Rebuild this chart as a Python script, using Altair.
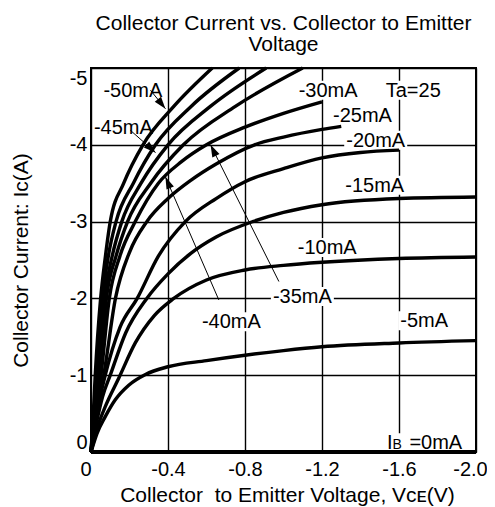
import altair as alt
import pandas as pd

FONT = "Liberation Sans"
W, H = 385, 384          # plot area in px
X_MAX, Y_MAX = 2.0, 5.0  # magnitudes of axis extents

# ---------------- data ----------------
vce_0 = [0.0, -2.0]
ic_0 = [0.0, 0.0]

vce_5 = [0, -0.031, -0.074, -0.126, -0.196, -0.283, -0.4, -0.6, -0.8, -1.0, -1.2, -1.6, -2.0]
ic_5 = [0, -0.24, -0.46, -0.68, -0.87, -1.01, -1.11, -1.19, -1.26, -1.32, -1.37, -1.42, -1.45]

vce_10 = [0, -0.04, -0.074, -0.144, -0.23, -0.33, -0.43, -0.6, -0.8, -1.0, -1.2, -1.6, -2.0]
ic_10 = [0, -0.37, -0.59, -0.96, -1.42, -1.78, -2.0, -2.24, -2.37, -2.43, -2.47, -2.52, -2.54]

vce_15 = [0, -0.03, -0.06, -0.10, -0.18, -0.29, -0.4, -0.52, -0.65, -0.84, -1.0, -1.2, -1.6, -2.0]
ic_15 = [0, -0.40, -0.72, -1.0, -1.55, -2.0, -2.32, -2.59, -2.80, -3.0, -3.12, -3.22, -3.30, -3.32]

vce_20 = [0, -0.03, -0.074, -0.15, -0.24, -0.35, -0.49, -0.65, -0.8, -1.0, -1.2, -1.4, -1.6]
ic_20 = [0, -0.5, -1.0, -1.62, -2.0, -2.55, -3.0, -3.3, -3.52, -3.69, -3.83, -3.9, -3.93]

vce_25 = [0, -0.03, -0.066, -0.127, -0.2, -0.29, -0.4, -0.52, -0.65, -0.85, -1.0, -1.2, -1.3]
ic_25 = [0, -0.55, -1.0, -2.0, -2.6, -3.0, -3.3, -3.54, -3.75, -4.0, -4.1, -4.2, -4.24]

vce_30 = [0, -0.025, -0.052, -0.095, -0.15, -0.23, -0.35, -0.47, -0.6, -0.8, -1.0, -1.2]
ic_30 = [0, -0.5, -1.0, -2.0, -2.55, -3.0, -3.5, -3.78, -4.0, -4.23, -4.41, -4.56]

vce_35 = [0, -0.022, -0.045, -0.08, -0.13, -0.19, -0.31, -0.48, -0.75, -1.10]
ic_35 = [0, -0.5, -1.0, -2.0, -2.55, -3.0, -3.5, -4.0, -4.5, -5.0]

vce_40 = [0, -0.018, -0.037, -0.07, -0.11, -0.16, -0.26, -0.40, -0.62, -0.91]
ic_40 = [0, -0.5, -1.0, -2.0, -2.55, -3.0, -3.5, -4.0, -4.5, -5.0]

vce_45 = [0, -0.015, -0.03, -0.06, -0.09, -0.13, -0.22, -0.335, -0.52, -0.77]
ic_45 = [0, -0.5, -1.0, -2.0, -2.55, -3.0, -3.5, -4.0, -4.5, -5.0]

vce_50 = [0, -0.012, -0.022, -0.05, -0.075, -0.10, -0.17, -0.27, -0.43, -0.63]
ic_50 = [0, -0.5, -1.0, -2.0, -2.55, -3.0, -3.5, -4.0, -4.5, -5.0]

curves = [
    ("0mA", vce_0, ic_0), ("-5mA", vce_5, ic_5), ("-10mA", vce_10, ic_10),
    ("-15mA", vce_15, ic_15), ("-20mA", vce_20, ic_20), ("-25mA", vce_25, ic_25),
    ("-30mA", vce_30, ic_30), ("-35mA", vce_35, ic_35), ("-40mA", vce_40, ic_40),
    ("-45mA", vce_45, ic_45), ("-50mA", vce_50, ic_50),
]

x_ticks = [0, -0.4, -0.8, -1.2, -1.6, -2.0]
y_ticks = [0, -1, -2, -3, -4, -5]

# annotation labels: text, centre x, baseline y (data units)
lab_text = ["-50mA", "-45mA", "-30mA", "Ta=25", "-25mA", "-20mA", "-15mA", "-10mA", "-35mA", "-40mA", "-5mA"]
lab_x = [-0.2175, -0.168, -1.232, -1.674, -1.41, -1.479, -1.474, -1.227, -1.098, -0.729, -1.731]
lab_y = [-4.622, -4.141, -4.626, -4.626, -4.30, -3.975, -3.389, -2.578, -1.94, -1.611, -1.624]
lab_w = [59, 59, 59, 57, 59, 59, 59, 59, 59, 59, 48]
lab_bg = [False, False, True, True, True, True, True, True, True, True, True]

# IB = 0mA label parts
ib_text = ["I", "B", "=0mA"]
ib_x = [-1.538, -1.566, -1.654]
ib_y = [-0.035, -0.035, -0.035]
ib_fs = [20, 14, 20]

# leader lines (label -> arrow tip) and arrow heads
lead_x1 = [-0.309, -0.204, -0.664, -0.976]
lead_y1 = [-4.71, -4.19, -1.98, -2.22]
lead_x2 = [-0.387, -0.335, -0.387, -0.621]
lead_y2 = [-4.47, -3.90, -3.58, -4.00]
head_x = [-0.367, -0.312, -0.399, -0.635]
head_y = [-4.531, -3.95, -3.51, -3.93]
head_ang = [142, 132, 337, 334]

# ---------------- helpers ----------------
def px_x(v):
    return -v / X_MAX * W

def v_x(p):
    return -p / W * X_MAX

def px_y(v):
    return H * (1 + v / Y_MAX)

def v_y(p):
    return (p / H - 1) * Y_MAX

rows = []
for name, xs, ys in curves:
    for i, (a, b) in enumerate(zip(xs, ys)):
        rows.append({"ib": name, "vce": a, "ic": b, "idx": i, "w": 4.0 if name == "0mA" else 3.4})
df = pd.DataFrame(rows)

bg_rows = []
for t, cx, by, w, bg in zip(lab_text, lab_x, lab_y, lab_w, lab_bg):
    if not bg:
        continue
    cpx = px_x(cx)
    bpy = px_y(by)
    bg_rows.append({"vce": v_x(cpx - w / 2 - 2), "vce2": v_x(cpx + w / 2 + 2),
                    "ic": v_y(bpy - 16), "ic2": v_y(bpy + 3)})
# IB label background
ib_l = px_x(ib_x[0]) - 2
ib_b = px_y(ib_y[0])
bg_rows.append({"vce": v_x(ib_l), "vce2": v_x(ib_l + 78), "ic": v_y(ib_b - 16), "ic2": v_y(ib_b + 2)})
df_bg = pd.DataFrame(bg_rows)

df_lab = pd.DataFrame({"t": lab_text, "vce": lab_x, "ic": lab_y})
df_ib = pd.DataFrame({"t": ib_text, "vce": ib_x, "ic": ib_y, "fs": ib_fs})
df_lead = pd.DataFrame({"vce": lead_x1, "ic": lead_y1, "vce2": lead_x2, "ic2": lead_y2})
df_head = pd.DataFrame({"vce": head_x, "ic": head_y, "ang": head_ang})

# ---------------- scales / axes ----------------
x_scale = alt.Scale(domain=[0, -2.0], nice=False, zero=False)
y_scale = alt.Scale(domain=[0, -5.0], nice=False, zero=False)

x_axis = alt.Axis(
    values=x_ticks,
    labelExpr="datum.value == 0 ? '0' : '-' + format(-datum.value, '.1f')",
    title="Collector\u00a0 to Emitter Voltage, V\u1d04\u1d07(V)",
    grid=True, ticks=False, domain=False, labelFlush=False,
    labelAlign={"condition": {"test": "datum.value == 0", "value": "right"}, "value": "center"},
    labelOffset={"condition": {"test": "datum.value <= -1.99", "value": -6}, "value": 0},
    labelPadding=7, titleY=49, titleX=196, titleBaseline="alphabetic",
)
y_axis = alt.Axis(
    values=y_ticks,
    labelExpr="datum.value == 0 ? '0' : '-' + format(-datum.value, 'd')",
    title="Collector Current: Ic(A)",
    grid=True, ticks=False, domain=False, labelFlush=True, labelPadding=4,
    titleAngle=270, titleX=-64, titleY=192, titleBaseline="alphabetic", titleAlign="center",
)

X = alt.X("vce:Q", scale=x_scale, axis=x_axis)
Y = alt.Y("ic:Q", scale=y_scale, axis=y_axis)

bg = alt.Chart(df_bg).mark_rect(color="white").encode(
    x=X, x2="vce2:Q", y=Y, y2="ic2:Q")

lines = alt.Chart(df).mark_line(color="black", interpolate="monotone", strokeCap="butt").encode(
    x=X, y=Y, detail="ib:N", order="idx:Q",
    strokeWidth=alt.StrokeWidth("w:Q", scale=None))

leads = alt.Chart(df_lead).mark_rule(color="black", strokeWidth=1).encode(
    x=X, y=Y, x2="vce2:Q", y2="ic2:Q")

heads = alt.Chart(df_head).mark_point(
    shape="M0,-1L-0.65,1L0.65,1Z", filled=True, color="black", opacity=1, size=150, strokeWidth=0
).encode(x=X, y=Y, angle=alt.Angle("ang:Q", scale=None))

texts = alt.Chart(df_lab).mark_text(
    font=FONT, fontSize=20, align="center", baseline="alphabetic", color="black"
).encode(x=X, y=Y, text="t:N")

ib_texts = alt.Chart(df_ib).mark_text(
    font=FONT, align="left", baseline="alphabetic", color="black"
).encode(x=X, y=Y, text="t:N", size=alt.Size("fs:Q", scale=None))

chart = alt.layer(bg, lines, leads, heads, texts, ib_texts).properties(
    width=W, height=H,
    autosize=alt.AutoSizeParams(type="none"),
    padding={"left": 83, "top": 60, "right": 11, "bottom": 56},
    title=alt.TitleParams(
        text=["Collector Current vs. Collector to Emitter", "Voltage"],
        font=FONT, fontSize=21, fontWeight="normal", color="black",
        anchor="middle", baseline="alphabetic", offset=18, dy=29, lineHeight=21,
    ),
    background="white",
).configure_view(
    stroke="black", strokeWidth=2
).configure_axis(
    gridColor="black", gridWidth=1.4, gridOpacity=1,
    labelFont=FONT, labelFontSize=20, labelColor="black",
    titleFont=FONT, titleFontSize=21, titleFontWeight="normal", titleColor="black",
)

chart.save("out.html", embed_options={"renderer": "svg", "actions": False})
